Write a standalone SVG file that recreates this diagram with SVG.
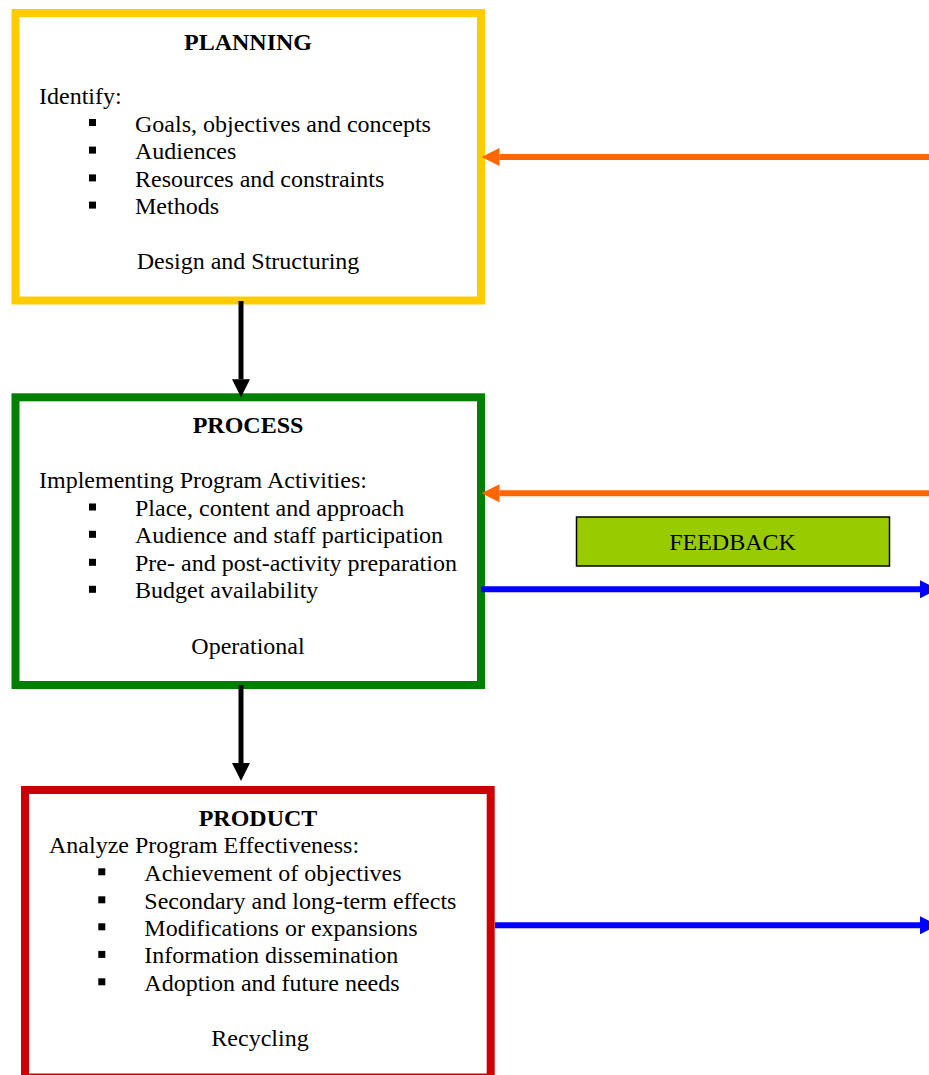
<svg xmlns="http://www.w3.org/2000/svg" width="929" height="1075" viewBox="0 0 929 1075">
  <style>
    .box { fill: #ffffff; stroke-width: 8; }
    .t { font-family: "Liberation Serif", "Times New Roman", serif; font-size: 24px; fill: #000000; }
    .title { font-weight: bold; text-anchor: middle; }
    .mid { text-anchor: middle; }
    .bullet { fill: #000000; }
    .down { stroke: #000000; stroke-width: 5; fill: none; }
    .back { stroke: #FF6600; stroke-width: 6; fill: none; }
    .fwd { stroke: #0000FF; stroke-width: 6; fill: none; }
  </style>
  <defs>
    <marker id="headBlack" markerUnits="userSpaceOnUse" markerWidth="18" markerHeight="18" viewBox="0 0 18 18" refX="0" refY="9" orient="auto">
      <path d="M0,0 L18,9 L0,18 Z" fill="#000000"/>
    </marker>
    <marker id="headOrange" markerUnits="userSpaceOnUse" markerWidth="18" markerHeight="18" viewBox="0 0 18 18" refX="0" refY="9" orient="auto">
      <path d="M0,0 L18,9 L0,18 Z" fill="#FF6600"/>
    </marker>
    <marker id="headBlue" markerUnits="userSpaceOnUse" markerWidth="18" markerHeight="18" viewBox="0 0 18 18" refX="0" refY="9" orient="auto">
      <path d="M0,0 L18,9 L0,18 Z" fill="#0000FF"/>
    </marker>
    <rect id="sq" width="7" height="7"/>
  </defs>

  <g id="planning">
    <rect class="box" x="15.5" y="13" width="465.5" height="287.5" stroke="#FFCC00"/>
    <text class="t title" x="248" y="49.5">PLANNING</text>
    <text class="t" x="39" y="104">Identify:</text>
    <use href="#sq" class="bullet" x="89" y="119"/>
    <use href="#sq" class="bullet" x="89" y="146.6"/>
    <use href="#sq" class="bullet" x="89" y="174.4"/>
    <use href="#sq" class="bullet" x="89" y="201.6"/>
    <text class="t" x="135" y="131.7">Goals, objectives and concepts</text>
    <text class="t" x="135" y="159.3">Audiences</text>
    <text class="t" x="135" y="187.1">Resources and constraints</text>
    <text class="t" x="135" y="214.3">Methods</text>
    <text class="t mid" x="248" y="269">Design and Structuring</text>
  </g>

  <g id="process">
    <rect class="box" x="15.5" y="397.3" width="465.5" height="287.7" stroke="#008000"/>
    <text class="t title" x="248" y="433.3">PROCESS</text>
    <text class="t" x="39" y="488.3">Implementing Program Activities:</text>
    <use href="#sq" class="bullet" x="89" y="503.5"/>
    <use href="#sq" class="bullet" x="89" y="530.8"/>
    <use href="#sq" class="bullet" x="89" y="558.8"/>
    <use href="#sq" class="bullet" x="89" y="585.8"/>
    <text class="t" x="135" y="516">Place, content and approach</text>
    <text class="t" x="135" y="543.3">Audience and staff participation</text>
    <text class="t" x="135" y="571.3">Pre- and post-activity preparation</text>
    <text class="t" x="135" y="598.3">Budget availability</text>
    <text class="t mid" x="248" y="654">Operational</text>
  </g>

  <g id="product">
    <rect class="box" x="25" y="790" width="465.7" height="287.5" stroke="#CC0000"/>
    <text class="t title" x="258" y="826">PRODUCT</text>
    <text class="t" x="49" y="852.7">Analyze Program Effectiveness:</text>
    <use href="#sq" class="bullet" x="98.3" y="868.3"/>
    <use href="#sq" class="bullet" x="98.3" y="896.3"/>
    <use href="#sq" class="bullet" x="98.3" y="923.3"/>
    <use href="#sq" class="bullet" x="98.3" y="950.9"/>
    <use href="#sq" class="bullet" x="98.3" y="978.3"/>
    <text class="t" x="144.3" y="880.7">Achievement of objectives</text>
    <text class="t" x="144.3" y="908.7">Secondary and long-term effects</text>
    <text class="t" x="144.3" y="935.7">Modifications or expansions</text>
    <text class="t" x="144.3" y="963.3">Information dissemination</text>
    <text class="t" x="144.3" y="990.7">Adoption and future needs</text>
    <text class="t mid" x="260" y="1045.7">Recycling</text>
  </g>

  <g id="feedback">
    <rect x="576.5" y="517" width="313" height="49" fill="#99CC00" stroke="#000000" stroke-width="1.5"/>
    <text class="t mid" x="732.5" y="550">FEEDBACK</text>
  </g>

  <g id="connectors">
    <line class="down" x1="241" y1="301" x2="241" y2="379.3" marker-end="url(#headBlack)"/>
    <line class="down" x1="241" y1="685" x2="241" y2="763" marker-end="url(#headBlack)"/>
    <line class="back" x1="929" y1="157" x2="499.5" y2="157" marker-end="url(#headOrange)"/>
    <line class="back" x1="929" y1="493.3" x2="499.5" y2="493.3" marker-end="url(#headOrange)"/>
    <line class="fwd" x1="481" y1="589.3" x2="920" y2="589.3" marker-end="url(#headBlue)"/>
    <line class="fwd" x1="495" y1="925.3" x2="920" y2="925.3" marker-end="url(#headBlue)"/>
  </g>
</svg>
